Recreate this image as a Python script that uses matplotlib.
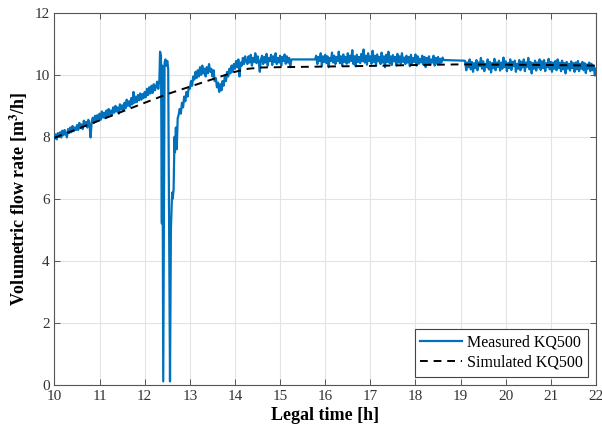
import numpy as np
import matplotlib
matplotlib.use("Agg")
import matplotlib.pyplot as plt

plt.rcParams['font.family'] = ['Liberation Serif', 'DejaVu Serif']
plt.rcParams['mathtext.fontset'] = 'stix'

# ---- Measured KQ500 flow rate [m3/h] ----
# rising morning section, sampled every 0.025 h
seg1_start, seg1_stop = 10.0, 12.325
seg1_vals = [
    7.95, 8.08, 7.92, 8.12, 8.00, 8.15, 7.98, 8.20, 8.05, 8.22,
    8.10, 7.98, 8.25, 8.12, 8.30, 8.15, 8.35, 8.18, 8.30, 8.22,
    8.38, 8.22, 8.45, 8.28, 8.40, 8.25, 8.52, 8.35, 8.48, 8.30,
    8.55, 8.40, 7.98, 8.50, 8.62, 8.45, 8.68, 8.52, 8.70, 8.58,
    8.75, 8.55, 8.82, 8.62, 8.78, 8.60, 8.85, 8.68, 8.90, 8.72,
    8.85, 8.70, 8.95, 8.78, 9.00, 8.82, 8.95, 8.75, 9.05, 8.88,
    9.02, 8.85, 9.10, 8.92, 9.20, 9.00, 9.15, 8.98, 9.25, 9.05,
    9.45, 9.10, 9.30, 9.12, 9.35, 9.18, 9.40, 9.20, 9.38, 9.25,
    9.45, 9.28, 9.55, 9.35, 9.60, 9.40, 9.65, 9.42, 9.70, 9.50,
    9.62, 9.78, 9.55, 9.85,
]

# flow interruptions around 12.4 h (irregular samples)
seg2_times = [12.34, 12.36, 12.38, 12.39, 12.41, 12.44, 12.46, 12.48, 12.50,
              12.52, 12.56, 12.58, 12.60, 12.61, 12.62, 12.64, 12.66, 12.67,
              12.69, 12.71, 12.73]
seg2_vals = [10.75, 10.60, 5.20, 10.30, 0.10, 10.40, 10.50, 10.30, 10.45,
             10.20, 0.10, 5.00, 5.90, 6.20, 6.00, 6.30, 8.00, 7.50,
             8.30, 7.60, 8.60]

# recovery after the interruptions
seg3_start, seg3_stop = 12.75, 14.25
seg3_vals = [
    8.70, 8.90, 8.75, 9.10, 8.95, 9.30, 9.15, 9.45, 9.30, 9.60,
    9.55, 9.80, 9.65, 9.95, 9.85, 10.10, 9.90, 10.15, 9.95, 10.25,
    10.00, 10.30, 10.05, 10.20, 9.95, 10.25, 10.05, 10.35, 10.10, 10.20,
    9.95, 10.15, 9.80, 9.90, 9.60, 9.75, 9.45, 9.70, 9.50, 9.80,
    9.65, 9.95, 9.80, 10.10, 9.95, 10.20, 10.05, 10.30, 10.10, 10.35,
    10.20, 10.45, 10.25, 10.50, 9.95, 10.40, 10.30, 10.55, 10.35, 10.60,
    10.45,
]

# steady operation until the first logger gap
seg4_start, seg4_stop = 14.275, 15.275
seg4_vals = [
    10.35, 10.60, 10.40, 10.65, 10.30, 10.55, 10.42, 10.70, 10.38, 10.60,
    10.45, 10.10, 10.50, 10.62, 10.35, 10.58, 10.40, 10.68, 10.30, 10.55,
    10.45, 10.65, 10.32, 10.60, 10.42, 10.70, 10.35, 10.55, 10.40, 10.62,
    10.30, 10.58, 10.45, 10.66, 10.36, 10.60, 10.40, 10.55, 10.25, 10.50,
    10.50,
]

# afternoon plateau until the second logger gap
seg5_start, seg5_stop = 15.775, 18.625
seg5_vals = [
    10.50, 10.62, 10.35, 10.58, 10.45, 10.70, 10.30, 10.60, 10.42, 10.65,
    10.38, 10.60, 10.25, 10.55, 10.45, 10.72, 10.40, 10.62, 10.35, 10.58,
    10.45, 10.75, 10.38, 10.60, 10.30, 10.66, 10.42, 10.58, 10.36, 10.70,
    10.40, 10.62, 10.45, 10.80, 10.35, 10.60, 10.28, 10.65, 10.42, 10.58,
    10.38, 10.68, 10.45, 10.82, 10.40, 10.62, 10.33, 10.70, 10.45, 10.60,
    10.36, 10.78, 10.42, 10.62, 10.30, 10.66, 10.44, 10.58, 10.35, 10.72,
    10.40, 10.60, 10.25, 10.65, 10.42, 10.75, 10.38, 10.60, 10.32, 10.64,
    10.44, 10.58, 10.30, 10.68, 10.40, 10.60, 10.36, 10.70, 10.42, 10.56,
    10.35, 10.62, 10.40, 10.58, 10.28, 10.65, 10.38, 10.55, 10.42, 10.66,
    10.30, 10.60, 10.36, 10.52, 10.40, 10.62, 10.33, 10.58, 10.25, 10.55,
    10.38, 10.60, 10.32, 10.50, 10.40, 10.62, 10.30, 10.55, 10.36, 10.58,
    10.35, 10.52, 10.40, 10.56, 10.48,
]

# evening section
seg6_start, seg6_stop = 19.075, 22.0
seg6_vals = [
    10.46, 10.45, 10.15, 10.40, 10.25, 10.50, 10.18, 10.42, 10.10, 10.38,
    10.22, 10.48, 10.15, 10.40, 10.28, 10.55, 10.20, 10.44, 10.12, 10.36,
    10.25, 10.50, 10.18, 10.42, 10.08, 10.38, 10.22, 10.52, 10.15, 10.40,
    10.26, 10.46, 10.14, 10.40, 10.20, 10.56, 10.25, 10.44, 10.12, 10.38,
    10.22, 10.50, 10.16, 10.42, 10.28, 10.46, 10.10, 10.36, 10.20, 10.48,
    10.15, 10.42, 10.24, 10.50, 10.12, 10.40, 10.26, 10.55, 10.18, 10.42,
    10.05, 10.38, 10.20, 10.46, 10.14, 10.40, 10.24, 10.50, 10.16, 10.44,
    10.22, 10.48, 10.12, 10.38, 10.25, 10.52, 10.18, 10.42, 10.10, 10.40,
    10.20, 10.45, 10.15, 10.50, 10.22, 10.40, 10.12, 10.46, 10.18, 10.38,
    10.05, 10.42, 10.20, 10.36, 10.14, 10.44, 10.22, 10.38, 10.10, 10.40,
    10.18, 10.45, 10.12, 10.36, 10.20, 10.42, 10.15, 10.38, 10.06, 10.34,
    10.20, 10.40, 10.12, 10.36, 10.15, 10.30, 9.98, 10.20,
]

# ---- Simulated KQ500 flow rate [m3/h] ----
sim_time = [10.0, 11.0, 12.0, 12.5, 13.0, 13.5, 14.0, 14.3, 14.6, 15.0,
            16.0, 17.0, 18.0, 19.0, 20.0, 21.0, 22.0]
sim_vals = [7.97, 8.53, 9.10, 9.38, 9.62, 9.86, 10.10, 10.20, 10.24, 10.25,
            10.27, 10.29, 10.32, 10.34, 10.33, 10.32, 10.30]

x_ticks = list(range(10, 23))
y_ticks = list(range(0, 13, 2))

meas_time = np.concatenate([
    np.linspace(seg1_start, seg1_stop, len(seg1_vals)),
    np.array(seg2_times),
    np.linspace(seg3_start, seg3_stop, len(seg3_vals)),
    np.linspace(seg4_start, seg4_stop, len(seg4_vals)),
    np.linspace(seg5_start, seg5_stop, len(seg5_vals)),
    np.linspace(seg6_start, seg6_stop, len(seg6_vals)),
])
meas_vals = np.concatenate([seg1_vals, seg2_vals, seg3_vals,
                            seg4_vals, seg5_vals, seg6_vals])

fig = plt.figure(figsize=(6.02, 4.33), dpi=100)
ax = fig.add_axes([0.0905, 0.112, 0.8995, 0.858])

ax.plot(meas_time, meas_vals, color='#0072BD', lw=1.6,
        label='Measured KQ500', zorder=3)
ax.plot(sim_time, sim_vals, color='black', lw=1.4, ls=(0, (4, 3)),
        label='Simulated KQ500', zorder=4)

ax.set_xlim(10, 22)
ax.set_ylim(0, 12)
ax.set_xticks(x_ticks)
ax.set_yticks(y_ticks)
ax.grid(True, color='#e3e3e3', lw=0.8)
ax.set_axisbelow(True)

for s in ax.spines.values():
    s.set_color('#555555')
    s.set_linewidth(0.8)
ax.tick_params(direction='in', length=4, width=0.7, color='#555555',
               labelcolor='#333333', labelsize=11, top=True, right=True)
ax.tick_params(axis='x', pad=4)

ax.set_xlabel('Legal time [h]', fontsize=13, fontweight='bold', labelpad=3)
ax.set_ylabel('Volumetric flow rate [m$^\\mathbf{3}$/h]', fontsize=13,
              fontweight='bold', labelpad=3)

leg = ax.legend(loc='lower right', fontsize=11.5, fancybox=False,
                framealpha=1, edgecolor='#444444', handlelength=2.6,
                handletextpad=0.3, borderpad=0.35, labelspacing=0.25,
                borderaxespad=0.5)
leg.get_frame().set_linewidth(0.8)

fig.savefig('out.png', dpi=100)
